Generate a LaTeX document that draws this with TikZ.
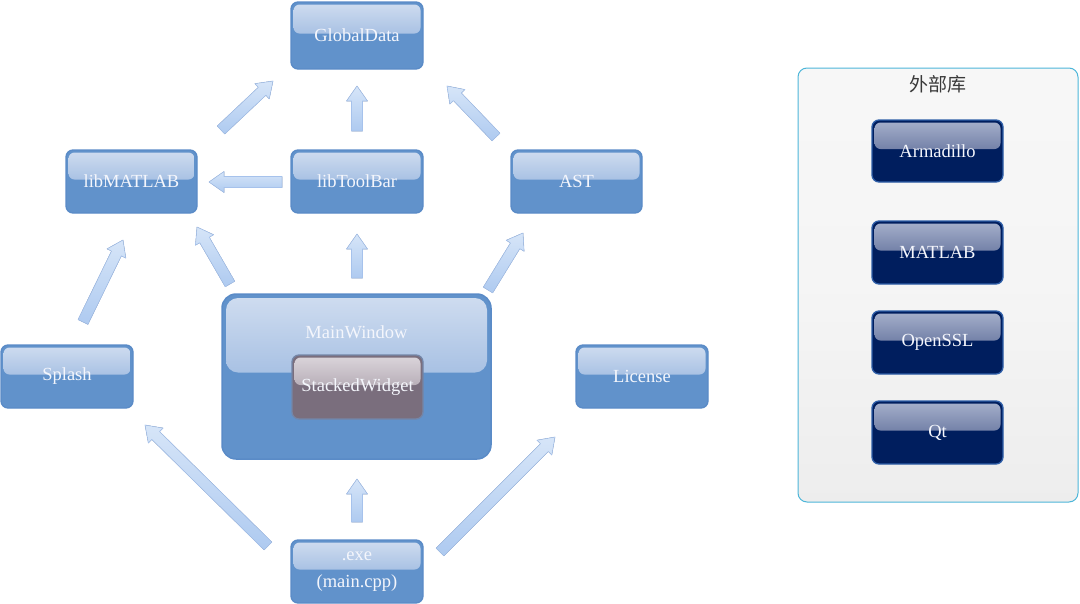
\documentclass[tikz,border=0pt]{standalone}
\usepackage{fontspec}
\setmainfont{Liberation Serif}
\newfontfamily\cjk{Noto Sans CJK SC}
\usetikzlibrary{calc}
\definecolor{nodefill}{HTML}{6192CB}
\definecolor{nodeedge}{HTML}{5A8BC7}
\definecolor{hlA}{HTML}{D0DDF0}
\definecolor{hlB}{HTML}{7DA3D6}
\definecolor{swfill}{HTML}{7A6E7D}
\definecolor{swedge}{HTML}{7486A8}
\definecolor{swA}{HTML}{DCD6DC}
\definecolor{swB}{HTML}{918491}
\definecolor{navyfill}{HTML}{001E5E}
\definecolor{navyedge}{HTML}{2F5FA8}
\definecolor{navyA}{HTML}{A7B1CC}
\definecolor{navyB}{HTML}{3A4C80}
\definecolor{paneledge}{HTML}{4DB6D9}
\definecolor{arrA}{HTML}{D6E5F8}
\definecolor{arrB}{HTML}{AECAF0}
\definecolor{arredge}{HTML}{A6C2EC}
\definecolor{titlecol}{HTML}{3A3A3A}
\definecolor{txt}{HTML}{F4F6FC}
\tikzset{
  box/.style={rounded corners=7pt, line width=1.3pt, minimum width=132pt,
    minimum height=63pt, inner sep=0pt, text=txt, align=center,
    font=\fontsize{18.5}{27}\selectfont},
  gloss/.style 2 args={path picture={\shade[top color=#1, bottom color=#2, rounded corners=6pt]
    ([xshift=2.5pt,yshift=-2.5pt]path picture bounding box.north west) rectangle
    ([xshift=-2.5pt,yshift=2pt]path picture bounding box.east);}},
  bluebox/.style={box, draw=nodeedge, fill=nodefill, gloss={hlA}{hlB}},
  purplebox/.style={box, draw=swedge, fill=swfill, gloss={swA}{swB}},
  navybox/.style={box, draw=navyedge, fill=navyfill, gloss={navyA}{navyB}},
  bigbox/.style={rounded corners=14pt, line width=1.5pt, draw=nodeedge, fill=nodefill,
    minimum width=269pt, minimum height=165pt, inner sep=0pt,
    path picture={\shade[top color=hlA, bottom color=hlB, rounded corners=12pt]
    ([xshift=4pt,yshift=-4pt]path picture bounding box.north west) rectangle
    ([xshift=-4pt,yshift=4pt]path picture bounding box.east);}},
  panel/.style={rounded corners=9pt, line width=1pt, draw=paneledge,
    top color=white!97!black, bottom color=black!7!white, middle color=black!4!white,
    minimum width=280pt, minimum height=434pt, inner sep=0pt},
  barrow/.style={top color=arrA, bottom color=arrB, draw=arredge, line width=0.6pt, line join=round},
  lbl/.style={text=txt, font=\fontsize{18.5}{22}\selectfont, inner sep=0pt},
}
\newcommand\blockarr[2]{%
  \path ($(#2)!15pt!(#1)$) coordinate (bam);
  \filldraw[barrow] ($(#1)!5.5pt!90:(#2)$) -- ($(bam)!5.5pt!90:(#2)$) -- ($(bam)!10.5pt!90:(#2)$)
    -- (#2) -- ($(bam)!10.5pt!-90:(#2)$) -- ($(bam)!5.5pt!-90:(#2)$) -- ($(#1)!5.5pt!-90:(#2)$) -- cycle;}
\begin{document}
\begin{tikzpicture}[x=1pt, y=-1pt]
\useasboundingbox (0,0) rectangle (1080,603);
% main nodes
\node[bluebox, minimum height=67pt] (gd) at (357,35.5) {GlobalData};
\node[bluebox, minimum width=131pt] (lm) at (131.5,181.5) {libMATLAB};
\node[bluebox] (ltb) at (357,181.5) {libToolBar};
\node[bluebox, minimum width=131pt] (ast) at (576.5,181.5) {AST};
\node[bluebox] (spl) at (67,376.5) {Splash};
\node[bigbox] (mw) at (356.5,376.5) {};
\node[lbl] (mwl) at (356.5,332) {MainWindow};
\node[purplebox, minimum width=131pt, minimum height=64pt] (sw) at (357.5,387) {StackedWidget};
\node[bluebox] (lic) at (642,376.5) {License};
\node[bluebox] (exe) at (357,571.5) {.exe\\(main.cpp)};
% external panel
\node[panel] (ext) at (938,285) {};
\node[text=titlecol, font=\cjk\fontsize{19}{22}\selectfont, inner sep=0pt] (extt) at (937.5,84.5) {外部库};
\node[navybox, minimum width=131pt, minimum height=62pt] (arm) at (937.5,151) {Armadillo};
\node[navybox, minimum width=131pt] (mat) at (937.5,252.5) {MATLAB};
\node[navybox, minimum width=131pt] (ssl) at (937.5,342.5) {OpenSSL};
\node[navybox, minimum width=131pt] (qt) at (937.5,432.5) {Qt};
% arrow ends
\coordinate (a1s) at (221,130);  \coordinate (a1e) at (273,81);
\coordinate (a2s) at (357,131);  \coordinate (a2e) at (357,86);
\coordinate (a3s) at (496,137);  \coordinate (a3e) at (447,86);
\coordinate (a4s) at (282,182);  \coordinate (a4e) at (209,182);
\coordinate (a5s) at (83,322);   \coordinate (a5e) at (123,240);
\coordinate (a6s) at (230,284);  \coordinate (a6e) at (197,227);
\coordinate (a7s) at (357,278);  \coordinate (a7e) at (357,234);
\coordinate (a8s) at (488,290);  \coordinate (a8e) at (523,233);
\coordinate (a9s) at (268,546);  \coordinate (a9e) at (145,425);
\coordinate (a10s) at (357,522); \coordinate (a10e) at (357,479);
\coordinate (a11s) at (440,552); \coordinate (a11e) at (555,437);
\blockarr{a1s}{a1e}
\blockarr{a2s}{a2e}
\blockarr{a3s}{a3e}
\blockarr{a4s}{a4e}
\blockarr{a5s}{a5e}
\blockarr{a6s}{a6e}
\blockarr{a7s}{a7e}
\blockarr{a8s}{a8e}
\blockarr{a9s}{a9e}
\blockarr{a10s}{a10e}
\blockarr{a11s}{a11e}
\end{tikzpicture}
\end{document}
